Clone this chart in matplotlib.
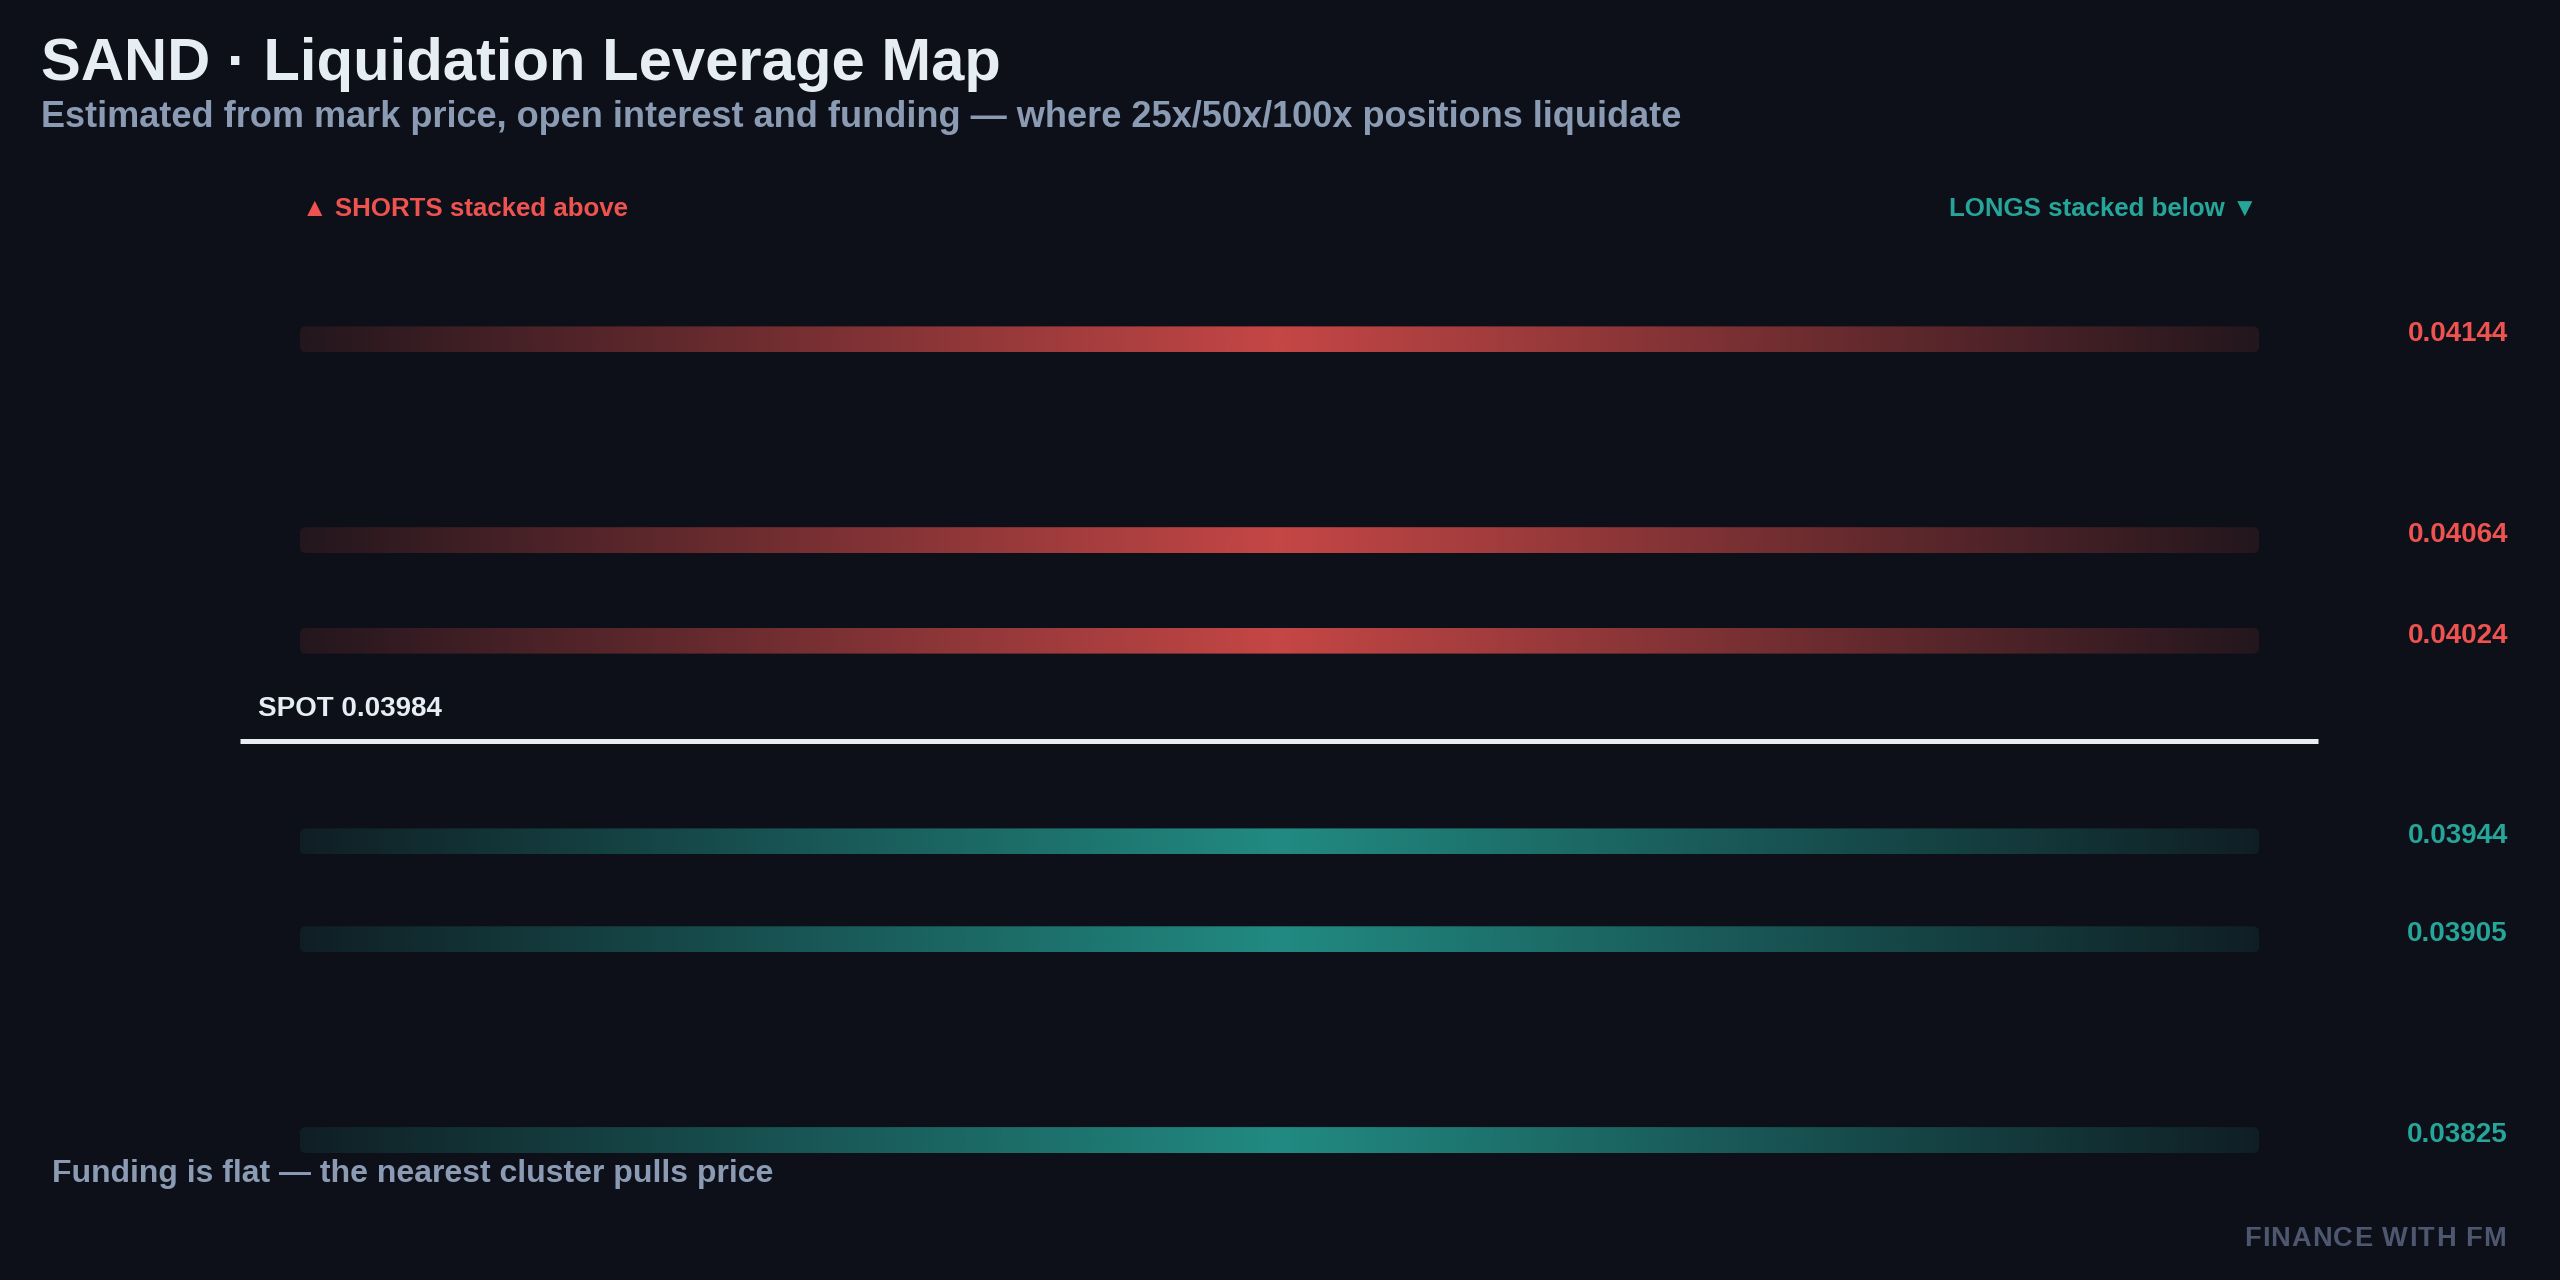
import numpy as np
import matplotlib
matplotlib.use('Agg')
import matplotlib.pyplot as plt
from matplotlib.patches import FancyBboxPatch
from matplotlib.colors import to_rgb

# data
spot = 0.03984
short_levels = [0.04144, 0.04064, 0.04024]
long_levels = [0.03944, 0.03905, 0.03825]

BG = '#0d1018'
RED = '#ef5350'
TEAL = '#26a69a'
TXT = '#e6edf3'
SUB = '#8b9bb4'

plt.rcParams['font.family'] = ['Liberation Sans', 'DejaVu Sans']
plt.rcParams['font.weight'] = 'bold'

W, H = 2560, 1280
fig = plt.figure(figsize=(12.8, 6.4), dpi=200, facecolor=BG)

# chart axes: bars span x 0..1, price on y
ax_left, ax_right = 300 / W, 2259 / W
ax = fig.add_axes([ax_left, 39 / H, ax_right - ax_left, 1000 / H])
ax.set_facecolor(BG)
ax.set_xlim(0, 1)
ax.set_ylim(spot * 0.95, spot * 1.05)
ax.axis('off')

bar_h = spot * 0.0026
px_x = 1 / 1959.0
px_y = spot * 0.1 / 1000.0


def grad_bar(y, color):
    n = 400
    t = np.linspace(-1, 1, n)
    alpha = 0.1 + 0.72 * (1 - np.abs(t))
    rgba = np.zeros((1, n, 4))
    rgba[..., :3] = to_rgb(color)
    rgba[..., 3] = alpha
    patch = FancyBboxPatch((0, y - bar_h / 2), 1, bar_h,
                           boxstyle='round,pad=0,rounding_size=%f' % (6 * px_x),
                           mutation_aspect=px_y / px_x,
                           facecolor='none', edgecolor='none')
    ax.add_patch(patch)
    im = ax.imshow(rgba, extent=[0, 1, y - bar_h / 2, y + bar_h / 2],
                   aspect='auto', interpolation='bilinear', zorder=2)
    im.set_clip_path(patch)


ytr = ax.get_yaxis_transform()
lab_x = (2508 - 300) / 1959.0

for lv in short_levels:
    grad_bar(lv, RED)
    ax.text(lab_x, lv - 2 * px_y, f'{lv:.5f}', transform=ytr, ha='right',
            va='baseline', color=RED, fontsize=10, clip_on=False)

for lv in long_levels:
    grad_bar(lv, TEAL)
    ax.text(lab_x, lv - 2 * px_y, f'{lv:.5f}', transform=ytr, ha='right',
            va='baseline', color=TEAL, fontsize=10, clip_on=False)

# spot line
ax.plot([-60 * px_x, 1 + 59 * px_x], [spot, spot], color=TXT, lw=1.8,
        solid_capstyle='butt', clip_on=False, zorder=3)
ax.text(-42 * px_x, spot + 25 * px_y, f'SPOT {spot:.5f}', color=TXT,
        fontsize=10, ha='left', va='baseline', clip_on=False)

# titles
fig.text(41 / W, 1 - 80 / H, 'SAND · Liquidation Leverage Map', color=TXT,
         fontsize=21.5, ha='left', va='baseline')
fig.text(41 / W, 1 - 127 / H,
         'Estimated from mark price, open interest and funding — where 25x/50x/100x positions liquidate',
         color=SUB, fontsize=13, ha='left', va='baseline')

fig.text(302 / W, 1 - 216 / H, '▲ SHORTS stacked above', color=RED,
         fontsize=9.3, ha='left', va='baseline')
fig.text(2258 / W, 1 - 216 / H, 'LONGS stacked below ▼', color=TEAL,
         fontsize=9.3, ha='right', va='baseline')

fig.text(52 / W, 1 - 1182 / H, 'Funding is flat — the nearest cluster pulls price',
         color=SUB, fontsize=11.5, ha='left', va='baseline')

# letter-spaced brand mark, drawn right to left
brand = 'FINANCE WITH FM'
renderer = fig.canvas.get_renderer()
x_px = 2506.0
gap = 1.2
for ch in reversed(brand):
    t = fig.text(x_px / W, 1 - 1246 / H, ch, color='#4d5870', fontsize=9.8,
                 ha='right', va='baseline')
    w = t.get_window_extent(renderer).width if ch != ' ' else 0.278 * 9.8 * 200 / 72
    x_px -= w + gap

fig.savefig('out.png', dpi=200, facecolor=BG)
